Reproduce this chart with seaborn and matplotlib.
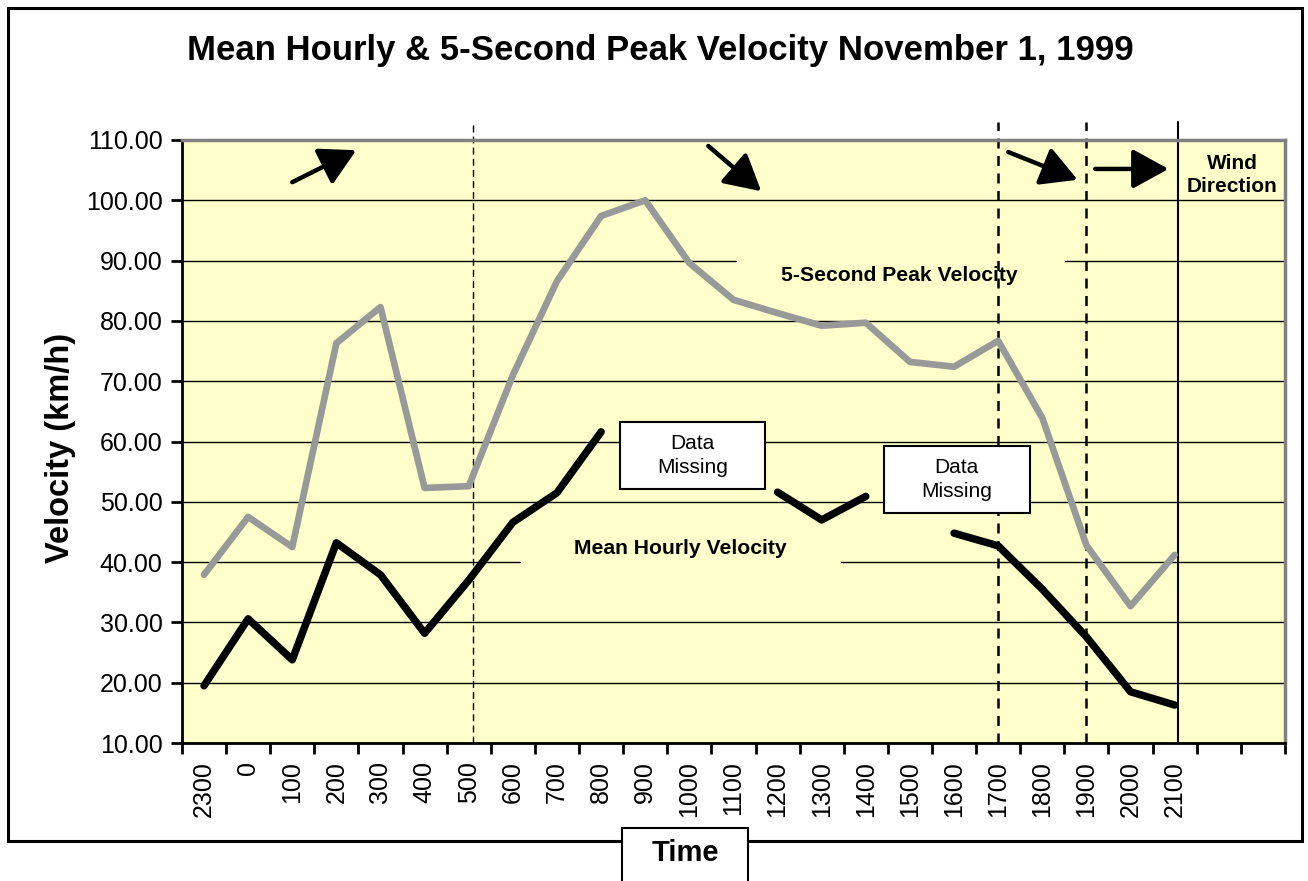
import numpy as np
import pandas as pd
import matplotlib
matplotlib.use("Agg")
import matplotlib.pyplot as plt
from matplotlib.patches import Rectangle
import seaborn as sns

# hour of day, starting 23:00 on Oct 31
hours = ["2300", "0", "100", "200", "300", "400", "500", "600", "700", "800",
         "900", "1000", "1100", "1200", "1300", "1400", "1500", "1600", "1700",
         "1800", "1900", "2000", "2100"]
peak_velocity = [37.9, 47.5, 42.5, 76.3, 82.3, 52.3, 52.6, 71.0, 86.6, 97.4,
                 100.0, 89.6, 83.5, 81.3, 79.2, 79.7, 73.2, 72.4, 76.7, 63.9,
                 42.8, 32.7, 41.2]
mean_velocity = [19.5, 30.6, 23.8, 43.2, 37.9, 28.2, 37.0, 46.6, 51.5, 61.6,
                 np.nan, np.nan, np.nan, 51.6, 47.0, 50.9, np.nan, 44.8, 42.7,
                 35.5, 27.6, 18.5, 16.3]
n_slots = 25  # two empty category slots on the right

sns.set_style("ticks")
plt.rcParams["font.family"] = ["Liberation Sans", "DejaVu Sans"]
plt.rcParams["text.color"] = "black"
plt.rcParams["xtick.color"] = "black"
plt.rcParams["ytick.color"] = "black"
plt.rcParams["axes.labelcolor"] = "black"

YELLOW = "#FFFFCC"
GREY = "#999999"


def to_frame(values):
    """ split a series into runs so gaps in the data stay gaps """
    df = pd.DataFrame({"pos": np.arange(len(values)), "velocity": values})
    df["run"] = df["velocity"].isna().cumsum()
    return df.dropna()


fig = plt.figure(figsize=(13.08, 8.81), dpi=100)
ax = fig.add_axes([0.1391, 0.1566, 0.8433, 0.6845])
ax.set_facecolor(YELLOW)

sns.lineplot(data=to_frame(peak_velocity), x="pos", y="velocity", units="run",
             estimator=None, color=GREY, lw=4.8, legend=False, ax=ax, zorder=3)
sns.lineplot(data=to_frame(mean_velocity), x="pos", y="velocity", units="run",
             estimator=None, color="black", lw=5.4, legend=False, ax=ax, zorder=3)

ax.set_xlim(-0.5, n_slots - 0.5)
ax.set_ylim(10, 110)
ax.set_yticks(np.arange(10, 111, 10))
ax.set_yticklabels([f"{v:.2f}" for v in np.arange(10, 111, 10)], fontsize=18)
ax.set_xticks(np.arange(n_slots))
ax.set_xticklabels(hours + [""] * (n_slots - len(hours)), rotation=90, fontsize=18)
ax.set_xticks(np.arange(n_slots + 1) - 0.5, minor=True)
ax.tick_params(axis="x", which="major", length=0, pad=13, colors="black")
ax.tick_params(axis="x", which="minor", length=8, width=2, color="black")
ax.tick_params(axis="y", length=8, width=2, colors="black", pad=6)
ax.set_xlabel("")
ax.set_ylabel("")

ax.yaxis.grid(True, color="black", lw=1)
ax.set_axisbelow(True)
for side in ["left", "bottom"]:
    ax.spines[side].set_color("black")
    ax.spines[side].set_linewidth(2)
for side in ["top", "right"]:
    ax.spines[side].set_color("#808080")
    ax.spines[side].set_linewidth(2.5)

# wind direction change markers
ax.axvline(6.1, ymin=0, ymax=1.03, color="black", lw=1, ls=(0, (5, 3)),
           clip_on=False, zorder=2)
ax.axvline(18.0, ymin=0, ymax=1.03, color="black", lw=1.8, ls=(0, (4, 3)),
           clip_on=False, zorder=2)
ax.axvline(20.0, ymin=0, ymax=1.03, color="black", lw=1.8, ls=(0, (4, 3)),
           clip_on=False, zorder=2)
ax.axvline(22.08, ymin=0, ymax=1.03, color="black", lw=1.5, clip_on=False, zorder=2)

arrows = [((2.0, 103.0), (3.45, 108.3)), ((11.43, 109.0), (12.63, 101.5)),
          ((18.23, 108.0), (19.8, 103.4)), ((20.2, 105.2), (21.86, 105.2))]
for tail, tip in arrows:
    ax.annotate("", xy=tip, xytext=tail,
                arrowprops=dict(arrowstyle="-|>,head_length=1.0,head_width=0.55",
                                lw=3.2, color="black", mutation_scale=22,
                                shrinkA=0, shrinkB=0), zorder=5)
ax.text(23.3, 104.2, "Wind\nDirection", ha="center", va="center", fontsize=15,
        fontweight="bold", linespacing=1.25, zorder=5)

# series labels, set on background coloured patches that hide the grid
ax.add_patch(Rectangle((12.09, 84.5), 7.43, 7.5, facecolor=YELLOW, edgecolor="none", zorder=1.5))
ax.text(15.76, 87.6, "5-Second Peak Velocity", ha="center", va="center",
        fontsize=15.2, fontweight="bold", zorder=5)
ax.add_patch(Rectangle((7.19, 38.5), 7.25, 7.0, facecolor=YELLOW, edgecolor="none", zorder=1.5))
ax.text(10.79, 42.2, "Mean Hourly Velocity", ha="center", va="center",
        fontsize=15.2, fontweight="bold", zorder=5)

# data missing boxes
for (x0, y0), (cx, cy) in [((9.43, 52.1), (11.08, 57.65)), ((15.42, 48.1), (17.05, 53.7))]:
    ax.add_patch(Rectangle((x0, y0), 3.29, 11.1, facecolor="white",
                           edgecolor="black", lw=1.5, zorder=4))
    ax.text(cx, cy, "Data\nMissing", ha="center", va="center", fontsize=15,
            linespacing=1.3, zorder=5)

fig.text(0.5046, 0.943, "Mean Hourly & 5-Second Peak Velocity November 1, 1999",
         ha="center", va="center", fontsize=25, fontweight="bold")
fig.text(0.0459, 0.492, "Velocity (km/h)", ha="center", va="center",
         rotation=90, fontsize=23.5, fontweight="bold")

# chart frame and the "Time" box hanging below it
fig.patches.append(Rectangle((0.0061, 0.0454), 0.9893, 0.9455, transform=fig.transFigure,
                             fill=False, edgecolor="black", lw=2.2))
fig.patches.append(Rectangle((0.4755, -0.01), 0.0963, 0.0702, transform=fig.transFigure,
                             facecolor="white", edgecolor="black", lw=1.5))
fig.text(0.5237, 0.0318, "Time", ha="center", va="center", fontsize=21, fontweight="bold")

fig.savefig("out.png", dpi=100, facecolor="white")
